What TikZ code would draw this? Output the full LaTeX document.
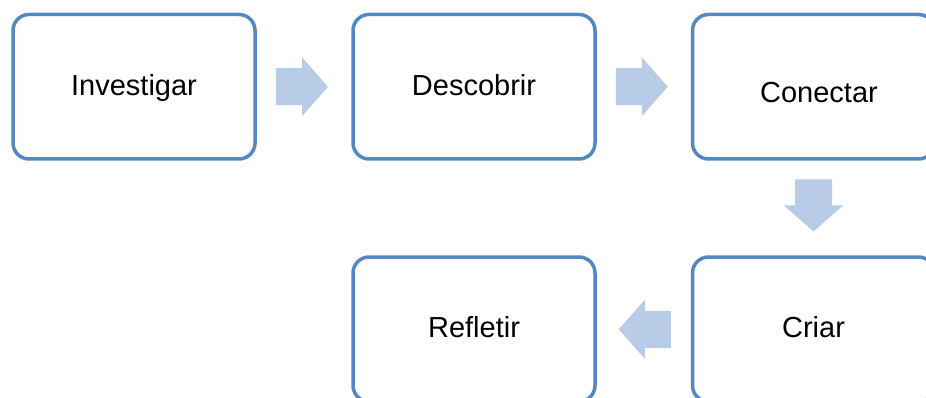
\documentclass[tikz,border=0pt]{standalone}
\usepackage{fontspec}
\setmainfont{Liberation Sans}
\usetikzlibrary{calc}
\definecolor{boxline}{RGB}{84,136,194}
\definecolor{arrowfill}{RGB}{184,204,231}
\begin{document}
\begin{tikzpicture}[x=1pt,y=-1pt,
  stage/.style={draw=boxline, line width=3.5pt, rounded corners=16pt, fill=white,
    minimum width=242pt, minimum height=144.5pt, inner sep=0pt,
    text height=17pt, text depth=0pt, font=\fontsize{29}{34}\selectfont},
  flowarrow/.pic={\fill[arrowfill] (-26,-18.5) -- (0,-18.5) -- (0,-29.5) -- (26,0)
    -- (0,29.5) -- (0,18.5) -- (-26,18.5) -- cycle;}]
\useasboundingbox (0,0) rectangle (926,398);
\clip (0,0) rectangle (926,398);

% process stages
\node[stage] (inv) at (134,86.75) {Investigar};
\node[stage] (des) at (474,86.75) {Descobrir};
\node[stage] (con) at (813.5,86.75) {\raisebox{-7pt}{\hspace*{11pt}Conectar}};
\node[stage] (cri) at (813.5,329.25) {Criar};
\node[stage] (ref) at (474,329.25) {Refletir};

% block arrows between stages
\pic at ($(inv.east)!0.5!(des.west)+(-2,0)$) {flowarrow};
\pic at ($(des.east)!0.5!(con.west)+(-2,0)$) {flowarrow};
\pic[rotate=-90] at ($(con.south)!0.5!(cri.north)+(0,-2.5)$) {flowarrow};
\pic[rotate=180] at ($(cri.west)!0.5!(ref.east)+(1,0)$) {flowarrow};
\end{tikzpicture}
\end{document}
